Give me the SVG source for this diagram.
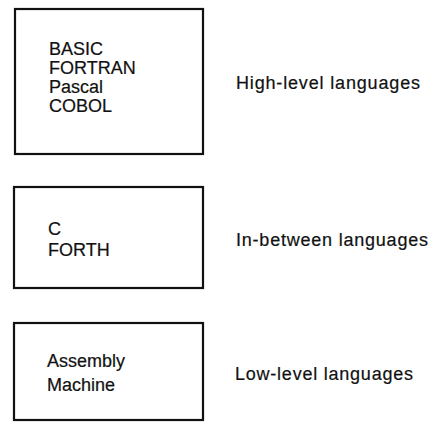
<svg xmlns="http://www.w3.org/2000/svg" width="432" height="422" viewBox="0 0 432 422">
<style>
.box{fill:#fff;stroke:#111;stroke-width:2.2}
.t{font-family:"Liberation Sans",Arial,sans-serif;font-size:18px;fill:#111;stroke:#111;stroke-width:0.2}
</style>
<rect width="432" height="422" fill="#fff"/>
<g id="high">
<rect class="box" x="15" y="9" width="188" height="145"/>
<text class="t" x="49" y="55">BASIC</text>
<text class="t" x="49" y="74">FORTRAN</text>
<text class="t" x="49" y="93">Pascal</text>
<text class="t" x="49" y="112">COBOL</text>
<text class="t" x="236" y="89" textLength="184" lengthAdjust="spacing">High-level languages</text>
</g>
<g id="between">
<rect class="box" x="14" y="187" width="189" height="101"/>
<text class="t" x="48" y="235">C</text>
<text class="t" x="48" y="256">FORTH</text>
<text class="t" x="236" y="246" textLength="192" lengthAdjust="spacing">In-between languages</text>
</g>
<g id="low">
<rect class="box" x="14" y="323" width="189" height="97"/>
<text class="t" x="47" y="367">Assembly</text>
<text class="t" x="47" y="391">Machine</text>
<text class="t" x="235" y="380" textLength="178" lengthAdjust="spacing">Low-level languages</text>
</g>
<g id="connectors"></g>
</svg>
